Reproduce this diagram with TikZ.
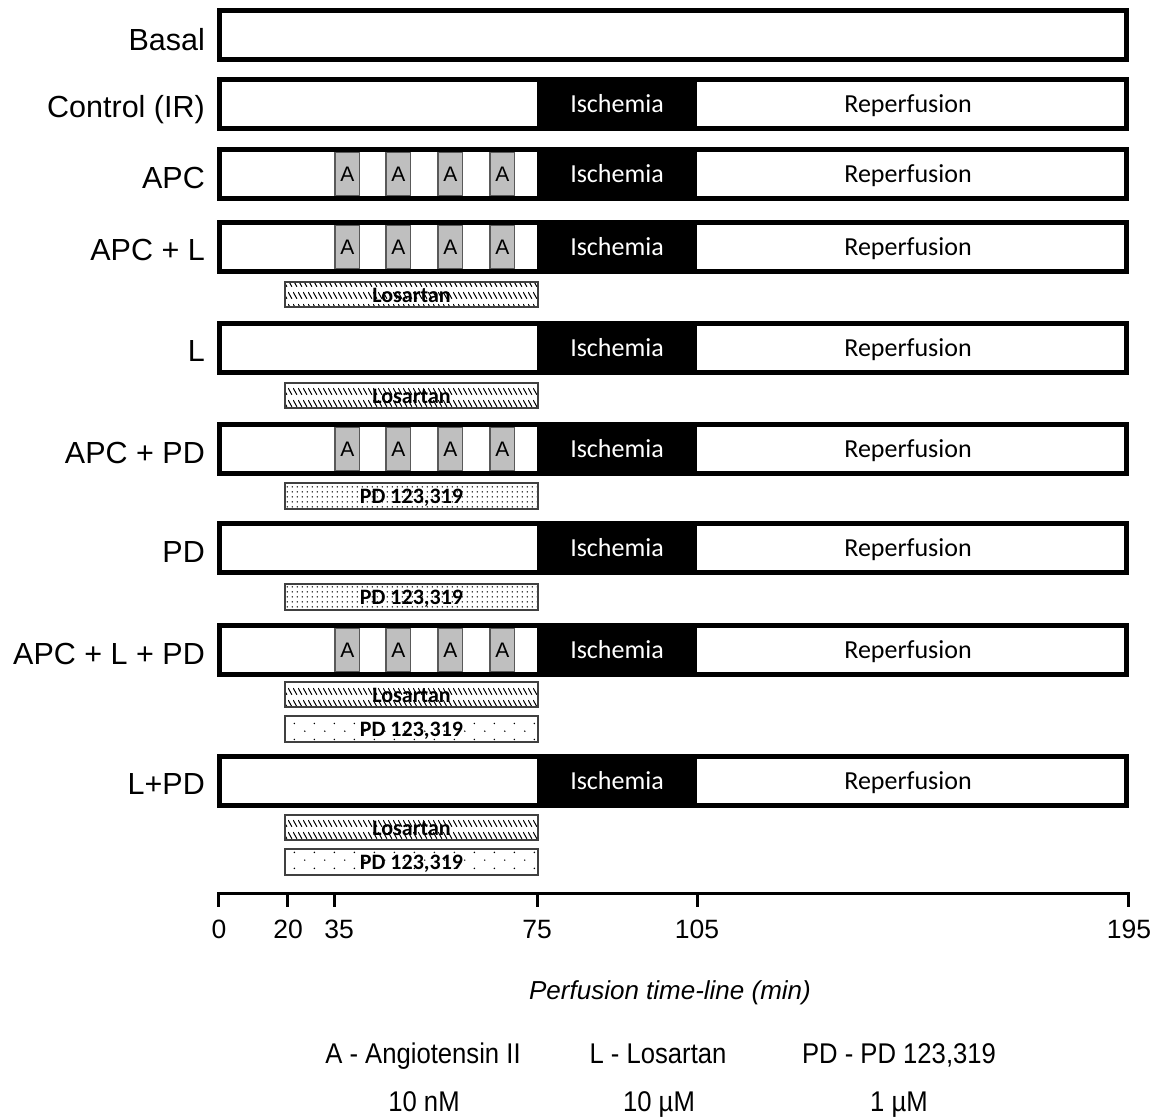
\documentclass[tikz,border=0pt]{standalone}
\usepackage{fontspec}
\setmainfont{Liberation Sans}
\newfontfamily\calf{Carlito}
\newfontfamily\narrowf[FakeStretch=0.9]{Liberation Sans}
\usetikzlibrary{patterns}
\pgfdeclarepatternformonly{hatchd}{\pgfpoint{0pt}{0pt}}{\pgfpoint{4.5pt}{12pt}}{\pgfpoint{4.5pt}{12pt}}{%
  \pgfsetlinewidth{1.1pt}%
  \pgfpathmoveto{\pgfpoint{0.2pt}{11.5pt}}%
  \pgfpathlineto{\pgfpoint{4.3pt}{4.5pt}}%
  \pgfusepath{stroke}}
\pgfdeclarepatternformonly{densedots}{\pgfpoint{0pt}{0pt}}{\pgfpoint{5.3pt}{5pt}}{\pgfpoint{5.3pt}{5pt}}{%
  \pgfpathcircle{\pgfpoint{2.6pt}{2.5pt}}{0.85pt}%
  \pgfusepath{fill}}
\pgfdeclarepatternformonly{sparsedots}{\pgfpoint{0pt}{0pt}}{\pgfpoint{20pt}{16pt}}{\pgfpoint{20pt}{16pt}}{%
  \pgfpathcircle{\pgfpoint{5pt}{4pt}}{0.85pt}%
  \pgfpathcircle{\pgfpoint{15pt}{12pt}}{0.85pt}%
  \pgfusepath{fill}}
\tikzset{
  rowlabel/.style={anchor=base east, inner sep=0pt, font=\fontsize{30.5}{36}\selectfont},
  barline/.style={line width=5pt, draw=black, fill=white},
  ischtext/.style={anchor=base, text=white, inner sep=0pt, font=\calf\fontsize{26}{30}\selectfont},
  reptext/.style={anchor=base, text=black, inner sep=0pt, font=\calf\fontsize{26}{30}\selectfont},
  abox/.style={fill=black!25, draw=black!65, line width=1.3pt},
  atext/.style={anchor=base, inner sep=0pt, font=\fontsize{21}{24}\selectfont},
  drugbox/.style={draw=black!75, line width=1.3pt, pattern color=black},
  drugtext/.style={anchor=base, inner sep=0pt, font=\calf\bfseries\fontsize{22}{26}\selectfont},
  ticklabel/.style={anchor=base, inner sep=0pt, font=\fontsize{26.5}{30}\selectfont},
  legtext/.style={anchor=base, inner sep=0pt, font=\narrowf\fontsize{28.5}{32}\selectfont},
}
\newcommand\emptybar[2]{%
  \draw[barline] (219.5,#2+2.5) rectangle (1126.5,#2+51.5);}
\newcommand\irbar[2]{%
  \draw[barline] (219.5,#2+2.5) rectangle (1126.5,#2+51.5);
  \fill[black] (537,#2) rectangle (697,#2+54);
  \node[ischtext] (#1isch) at (617,#2+35.5) {Ischemia};
  \node[reptext] (#1rep) at (908,#2+35.5) {Reperfusion};}
\newcommand\aboxes[2]{%
  \foreach \ax [count=\ai] in {335,386,438,490}{
    \draw[abox] (\ax,#2+5.5) rectangle (\ax+24.5,#2+48.5);
    \node[atext] (#1a\ai) at (\ax+12.25,#2+34.5) {A};
  }}
\newcommand\losbar[2]{%
  \draw[drugbox, pattern=hatchd] (285,#2) rectangle (538,#2+25);
  \node[drugtext] (#1) at (411.5,#2+20) {Losartan};}
\newcommand\pdbar[3]{%
  \draw[drugbox, pattern=#3] (285,#2) rectangle (538,#2+26);
  \node[drugtext] (#1) at (411.5,#2+20.5) {PD 123,319};}
\begin{document}
\begin{tikzpicture}[x=1pt,y=-1pt]
\useasboundingbox[fill=white] (0,0) rectangle (1166,1119);
% rows
\emptybar{basal}{8}
\node[rowlabel] (lbasal) at (205,50) {Basal};

\irbar{ctrl}{77}
\node[rowlabel] (lctrl) at (205,117) {Control (IR)};

\irbar{apc}{147}
\aboxes{apc}{147}
\node[rowlabel] (lapc) at (205,188) {APC};

\irbar{apcl}{220}
\aboxes{apcl}{220}
\node[rowlabel] (lapcl) at (205,260) {APC + L};
\losbar{los1}{282}

\irbar{l}{321}
\node[rowlabel] (ll) at (205,361) {L};
\losbar{los2}{383}

\irbar{apcpd}{422}
\aboxes{apcpd}{422}
\node[rowlabel] (lapcpd) at (205,463) {APC + PD};
\pdbar{pd1}{483}{densedots}

\irbar{pd}{521}
\node[rowlabel] (lpd) at (205,562) {PD};
\pdbar{pd2}{584}{densedots}

\irbar{apclpd}{623}
\aboxes{apclpd}{623}
\node[rowlabel] (lapclpd) at (205,664) {APC + L + PD};
\losbar{los3}{682}
\pdbar{pd3}{716}{sparsedots}

\irbar{lpd}{754}
\node[rowlabel] (llpd) at (205,794) {L+PD};
\losbar{los4}{815}
\pdbar{pd4}{849}{sparsedots}

% axis
\coordinate (ax0) at (218,893.5);
\coordinate (ax195) at (1128,893.5);
\draw[line width=3pt] (ax0) -- (ax195);
\foreach \tx/\tl/\lx in {218/0/219, 287/20/288, 334/35/339, 537/75/537, 697/105/697, 1128/195/1129}{
  \draw[line width=3pt] (\tx,892) -- (\tx,906.5);
  \node[ticklabel] (t\tl) at (\lx,938.5) {\tl};
}
\node[anchor=base, inner sep=0pt, font=\itshape\fontsize{26}{30}\selectfont] (axtitle) at (670,999.5) {Perfusion time-line (min)};

% legend
\node[legtext] (legA) at (423,1063) {A - Angiotensin II};
\node[legtext] (legL) at (658,1063) {L - Losartan};
\node[legtext] (legPD) at (899,1063) {PD - PD 123,319};
\node[legtext] (legA2) at (424,1111) {10 nM};
\node[legtext] (legL2) at (659,1111) {10 µM};
\node[legtext] (legPD2) at (899,1111) {1 µM};
\end{tikzpicture}
\end{document}
